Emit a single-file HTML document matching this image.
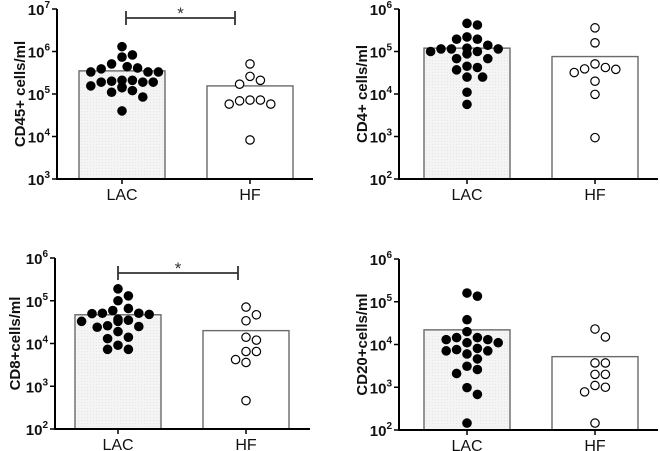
<!DOCTYPE html>
<html><head><meta charset="utf-8">
<style>
html,body{margin:0;padding:0;background:#fff;}
svg{display:block;font-family:"Liberation Sans",Arial,sans-serif;}
</style></head>
<body>
<svg id="chart" width="660" height="451" viewBox="0 0 660 451"></svg>
<script>
const categories = ["LAC", "HF"];
// CD45+
const cd45Lac = [1.3e6,7.4e5,8.3e5,4.4e5,3.9e5,3.3e5,3.3e5,3.3e5,4.1e5,5.1e5,2.1e5,1.9e5,1.9e5,1.9e5,2.0e5,2.1e5,1.4e5,1.55e5,1.2e5,1.45e5,1.1e5,8.5e4,4e4];
const cd45Hf = [5.1e5,2.6e5,2.1e5,1.7e5,7.2e4,5.8e4,5.8e4,6.9e4,7.2e4,8.3e3];
const cd45Bars = [3.5e5, 1.55e5];
// CD4+
const cd4Lac = [4.2e5,4.6e5,1.95e5,1.95e5,2.2e5,1.2e5,1.15e5,1.0e5,8.8e4,1.0e5,1.15e5,1.15e5,1.4e5,6.8e4,6.8e4,3.7e4,4.5e4,4.2e4,2.5e4,2.5e4,1.1e4,5.7e3];
const cd4Hf = [3.6e5,1.6e5,5.1e4,3.9e4,3.2e4,3.8e4,4.2e4,2.0e4,9.8e3,940];
const cd4Bars = [1.2e5, 7.6e4];
// CD8+
const cd8Lac = [1.9e5,1.3e5,1.0e5,6.6e4,5.1e4,5.0e4,4.8e4,5.1e4,5.9e4,3.7e4,3.3e4,2.6e4,2.4e4,2.5e4,3.5e4,3.3e4,1.9e4,1.4e4,1.3e4,9.1e3,7.3e3,7.3e3];
const cd8Hf = [7.1e4,4.7e4,3.4e4,1.4e4,1.2e4,6.5e3,6.5e3,4.2e3,3.6e3,460];
const cd8Bars = [4.7e4, 2.0e4];
// CD20+
const cd20Lac = [1.6e5,1.35e5,3.8e4,2.0e4,1.45e4,1.3e4,1.1e4,1.1e4,1.3e4,1.45e4,8.1e3,7.1e3,6.0e3,7.6e3,7.1e3,4.6e3,3.1e3,2.6e3,2.1e3,980,680,145];
const cd20Hf = [2.3e4,1.5e4,3.7e3,3.7e3,2.0e3,2.0e3,1.0e3,780,1.1e3,145];
const cd20Bars = [2.2e4, 5.2e3];

const NS = "http://www.w3.org/2000/svg";
const svg = document.getElementById("chart");
function mk(tag, attrs, parent) {
  const e = document.createElementNS(NS, tag);
  for (const k in attrs) e.setAttribute(k, attrs[k]);
  (parent || svg).appendChild(e);
  return e;
}

const panels = [
  {name:"cd45", title:"CD45+ cells/ml", lac:cd45Lac, hf:cd45Hf, bars:cd45Bars, ax:57, x1:313, yTop:9, yBot:179, minE:3, maxE:7, bx:[79,207], titleX:20, sig:{x1:126,x2:235,y:18}},
  {name:"cd4", title:"CD4+ cells/ml", lac:cd4Lac, hf:cd4Hf, bars:cd4Bars, ax:399, x1:658, yTop:9, yBot:179, minE:2, maxE:6, bx:[424,552], titleX:362, sig:null},
  {name:"cd8", title:"CD8+cells/ml", lac:cd8Lac, hf:cd8Hf, bars:cd8Bars, ax:55, x1:310, yTop:258, yBot:429, minE:2, maxE:6, bx:[75,203], titleX:15, sig:{x1:118,x2:238,y:273}},
  {name:"cd20", title:"CD20+cells/ml", lac:cd20Lac, hf:cd20Hf, bars:cd20Bars, ax:399, x1:658, yTop:259, yBot:430, minE:2, maxE:6, bx:[424,552], titleX:362, sig:null}
];

const defs = mk("defs", {});
const pat = mk("pattern", {id:"stip", width:3, height:3, patternUnits:"userSpaceOnUse"}, defs);
mk("rect", {width:3, height:3, fill:"#f4f4f4"}, pat);
mk("rect", {x:0, y:0, width:1, height:1, fill:"#e6e6e6"}, pat);

const BW = 86, R = 4.8, SP = 10.4;

function swarm(vals, cx, yf) {
  const order = vals.map((v,i)=>i).sort((a,b)=>vals[b]-vals[a]);
  const placed = [];
  const out = [];
  order.forEach(i => {
    const y = yf(vals[i]);
    let x = cx;
    const cands = [0];
    for (let j=1;j<8;j++){cands.push(j*SP/2, -j*SP/2);}
    for (const off of cands) {
      const tx = cx + off;
      if (placed.every(p => Math.hypot(p[0]-tx, p[1]-y) >= SP - 0.3)) { x = tx; break; }
    }
    placed.push([x,y]);
    out.push([x,y,i]);
  });
  return out;
}

panels.forEach(p => {
  const g = mk("g", {});
  
  
  const dec = (p.yBot - p.yTop) / (p.maxE - p.minE);
  const yf = v => p.yBot - (Math.log10(v) - p.minE) * dec;

  p.bars.forEach((v, i) => {
    const y = yf(v);
    const r = mk("rect", {x:p.bx[i], y:y, width:BW, height:p.yBot - y, fill: i===0 ? "url(#stip)" : "#fff", stroke:"#6a6a6a", "stroke-width":1.4}, g);
    
    
  });

  [p.lac, p.hf].forEach((vals, gi) => {
    const cx = p.bx[gi] + BW/2;
    swarm(vals, cx, yf).forEach(([x,y]) => {
      const c = mk("circle", {cx:x, cy:y, r: gi===0 ? R : R-0.6, fill: gi===0 ? "#000" : "#fff", stroke:"#000", "stroke-width": gi===0 ? 0 : 1.2}, g);
      
      
    });
  });

  const ya = mk("line", {x1:p.ax, y1:p.yTop, x2:p.ax, y2:p.yBot+1, stroke:"#000", "stroke-width":2}, g);
  
  
  const xa = mk("line", {x1:p.ax-1, y1:p.yBot, x2:p.x1, y2:p.yBot, stroke:"#000", "stroke-width":2}, g);
  
  

  for (let e = p.minE; e <= p.maxE; e++) {
    const y = yf(Math.pow(10, e));
    mk("line", {x1:p.ax-5, y1:y, x2:p.ax, y2:y, stroke:"#000", "stroke-width":1.5}, g);
    const t = mk("text", {x:p.ax-7, y:y+6, "text-anchor":"end", "font-size":15, "font-weight":"bold", fill:"#111"}, g);
    
    
    t.appendChild(document.createTextNode("10"));
    const s = mk("tspan", {dy:-7, "font-size":10}, t);
    s.textContent = String(e);
  }

  categories.forEach((c, i) => {
    const cx = p.bx[i] + BW/2;
    mk("line", {x1:cx, y1:p.yBot, x2:cx, y2:p.yBot+5, stroke:"#000", "stroke-width":1.5}, g);
    const t = mk("text", {x:cx, y:p.yBot+21, "text-anchor":"middle", "font-size":16, fill:"#111"}, g);
    
    
    t.textContent = c;
  });

  const ty = (p.yTop + p.yBot) / 2;
  const tt = mk("text", {x:p.titleX, y:ty, "text-anchor":"middle", "font-size":15, "font-weight":"bold", fill:"#111", transform:`rotate(-90 ${p.titleX} ${ty})`, dy:5}, g);
  
  
  tt.textContent = p.title;

  if (p.sig) {
    const sg = mk("g", {stroke:"#333", "stroke-width":1.8}, g);
    
    
    mk("line", {x1:p.sig.x1, y1:p.sig.y, x2:p.sig.x2, y2:p.sig.y}, sg);
    mk("line", {x1:p.sig.x1, y1:p.sig.y-7, x2:p.sig.x1, y2:p.sig.y+7}, sg);
    mk("line", {x1:p.sig.x2, y1:p.sig.y-7, x2:p.sig.x2, y2:p.sig.y+7}, sg);
    const st = mk("text", {x:(p.sig.x1+p.sig.x2)/2, y:p.sig.y+1, "text-anchor":"middle", "font-size":17, fill:"#333"}, g);
    
    
    st.textContent = "*";
  }
});
</script>
</body></html>
